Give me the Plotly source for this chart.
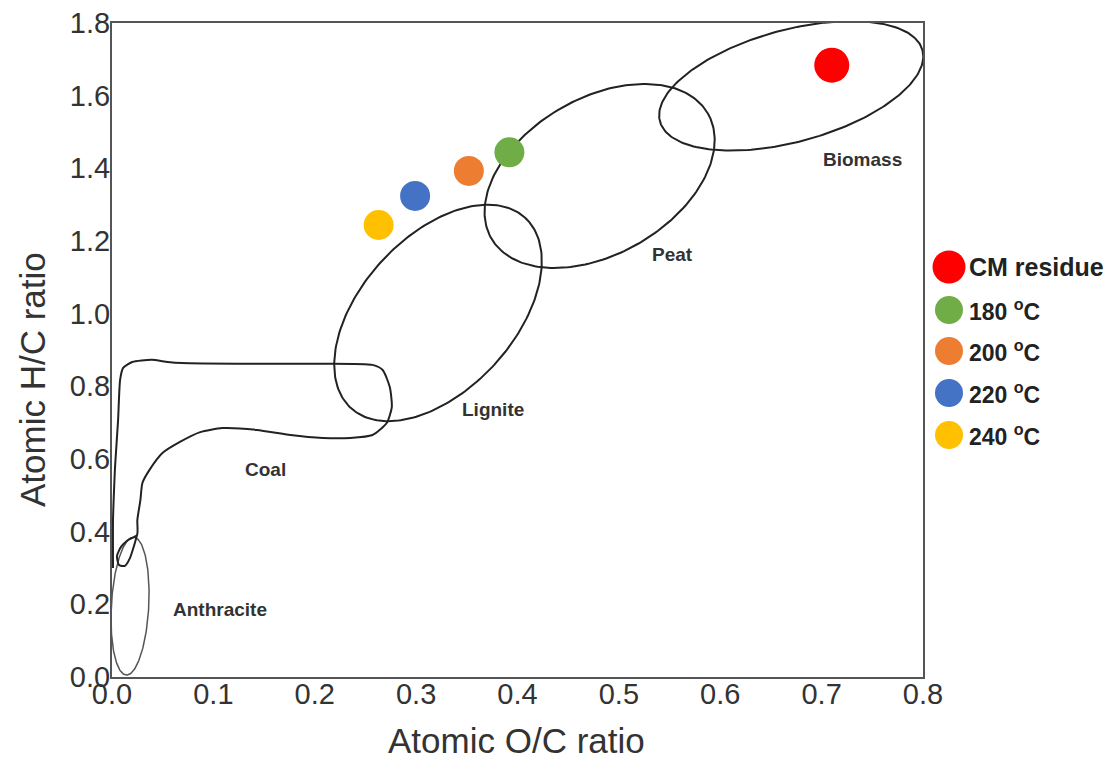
import numpy as np
import plotly.graph_objects as go

# ---------------- data ----------------
sample_names = ["CM residue", "180 <sup>o</sup>C", "200 <sup>o</sup>C", "220 <sup>o</sup>C", "240 <sup>o</sup>C"]
sample_oc = [0.710, 0.392, 0.352, 0.299, 0.263]
sample_hc = [1.684, 1.444, 1.393, 1.324, 1.244]
sample_colors = ["#FF0000", "#70AD47", "#ED7D31", "#4472C4", "#FFC000"]
sample_sizes = [35, 30, 30, 30, 30]

# region ellipses: centre (O/C, H/C), semi-axes (px), rotation (deg)
region_names = ["Biomass", "Peat", "Lignite", "Anthracite"]
region_cx = [0.670, 0.481, 0.3216, 0.0178]
region_cy = [1.627, 1.379, 1.002, 0.195]
region_a = [136, 125, 129, 69]
region_b = [56, 78, 76.5, 18.7]
region_rot = [15.2, 30.0, 47.5, 86.9]
region_width = [2, 2, 2, 1.5]
region_color = ["#222222", "#222222", "#222222", "#555555"]

# coal outline (O/C, H/C)
coal_oc = [0.001, 0.001, 0.002, 0.003, 0.006, 0.008, 0.011, 0.020, 0.039, 0.055, 0.069, 0.136, 0.185,
           0.257, 0.267, 0.274, 0.276, 0.271, 0.257, 0.235, 0.208, 0.176, 0.143, 0.109, 0.087, 0.067,
           0.050, 0.037, 0.030, 0.028, 0.025, 0.0247, 0.0158, 0.0089, 0.0049, 0.0069, 0.0128, 0.0178,
           0.0217, 0.0247]
coal_hc = [0.300, 0.432, 0.514, 0.578, 0.707, 0.818, 0.851, 0.867, 0.873, 0.867, 0.864, 0.862, 0.862,
           0.859, 0.845, 0.798, 0.743, 0.699, 0.666, 0.658, 0.658, 0.666, 0.680, 0.685, 0.674, 0.647,
           0.617, 0.570, 0.534, 0.487, 0.432, 0.391, 0.377, 0.358, 0.333, 0.308, 0.306, 0.328,
           0.361, 0.391]

# region labels
label_text = ["Biomass", "Peat", "Lignite", "Coal", "Anthracite"]
label_oc = [0.740, 0.553, 0.376, 0.151, 0.1065]
label_hc = [1.423, 1.162, 0.735, 0.570, 0.187]

x_range = [0, 0.8]
y_range = [0, 1.8]

# ---------------- layout geometry ----------------
OFF = 8  # default page body margin
W, H = 1119 - OFF, 763 - OFF
ML, MR, MT, MB = 112 - OFF, 196, 23 - OFF, 86
PW, PH = W - ML - MR, H - MT - MB
KX = PW / (x_range[1] - x_range[0])
KY = PH / (y_range[1] - y_range[0])


def paper_x(px):
    return (px - OFF - ML) / PW


def paper_y(py):
    return (H - MB - (py - OFF)) / PH


FONT = "Liberation Sans, Arial, sans-serif"
TXT = "#333333"

fig = go.Figure()

t = np.linspace(0, 2 * np.pi, 241)
for name, cx, cy, a, b, rot, lw, lc in zip(region_names, region_cx, region_cy, region_a, region_b,
                                            region_rot, region_width, region_color):
    th = np.radians(rot)
    ex = cx + (a * np.cos(th) * np.cos(t) - b * np.sin(th) * np.sin(t)) / KX
    ey = cy + (a * np.sin(th) * np.cos(t) + b * np.cos(th) * np.sin(t)) / KY
    fig.add_trace(go.Scatter(x=ex, y=ey, mode="lines", line=dict(color=lc, width=lw),
                             showlegend=False, hoverinfo="skip", name=name))

fig.add_trace(go.Scatter(x=coal_oc, y=coal_hc, mode="lines",
                         line=dict(color="#222222", width=2, shape="spline", smoothing=0.6),
                         showlegend=False, hoverinfo="skip", name="Coal"))

for nm, xo, yh, col, sz in zip(sample_names, sample_oc, sample_hc, sample_colors, sample_sizes):
    fig.add_trace(go.Scatter(x=[xo], y=[yh], mode="markers", name=nm,
                             marker=dict(color=col, size=sz, line=dict(width=0)),
                             showlegend=False, cliponaxis=False))

for txt, xo, yh in zip(label_text, label_oc, label_hc):
    fig.add_annotation(x=xo, y=yh, text="<b>%s</b>" % txt, showarrow=False,
                       font=dict(family=FONT, size=19, color=TXT))

# custom legend
leg_px_x = 949
leg_px_y = [267, 310, 351, 393, 435]
leg_font = [25, 23, 23, 23, 23]
for nm, col, sz, py, fs in zip(sample_names, sample_colors, sample_sizes, leg_px_y, leg_font):
    r = (sz - 2) / 2
    fig.add_shape(type="circle", xref="paper", yref="paper", xsizemode="pixel", ysizemode="pixel",
                  xanchor=paper_x(leg_px_x), yanchor=paper_y(py), x0=-r, x1=r, y0=-r, y1=r,
                  fillcolor=col, line=dict(width=0))
    fig.add_annotation(xref="paper", yref="paper", x=paper_x(leg_px_x + 18), y=paper_y(py),
                       xanchor="left", yanchor="middle", showarrow=False,
                       text="<b>%s</b>" % nm, font=dict(family=FONT, size=fs, color="#222222"))

# axis titles
fig.add_annotation(xref="paper", yref="paper", x=paper_x(516), y=paper_y(740),
                   text="Atomic O/C ratio", showarrow=False, xanchor="center", yanchor="middle",
                   font=dict(family=FONT, size=35, color=TXT))
fig.add_annotation(xref="paper", yref="paper", x=paper_x(33), y=paper_y(380),
                   text="Atomic H/C ratio", showarrow=False, textangle=-90,
                   xanchor="center", yanchor="middle",
                   font=dict(family=FONT, size=35, color=TXT))

axis_common = dict(showline=True, mirror=True, linecolor="#555555", linewidth=2,
                   showgrid=False, zeroline=False, ticks="", tickformat=".1f",
                   ticklabeloverflow="allow",
                   tickfont=dict(family=FONT, size=29, color=TXT))

fig.update_layout(
    width=W, height=H,
    margin=dict(l=ML, r=MR, t=MT, b=MB, autoexpand=False),
    paper_bgcolor="white", plot_bgcolor="white",
    showlegend=False,
    xaxis=dict(range=x_range, dtick=0.1, ticklabelstandoff=-10, **axis_common),
    yaxis=dict(range=y_range, dtick=0.2, ticklabelstandoff=-6, **axis_common),
)

fig.write_html("out.html")
